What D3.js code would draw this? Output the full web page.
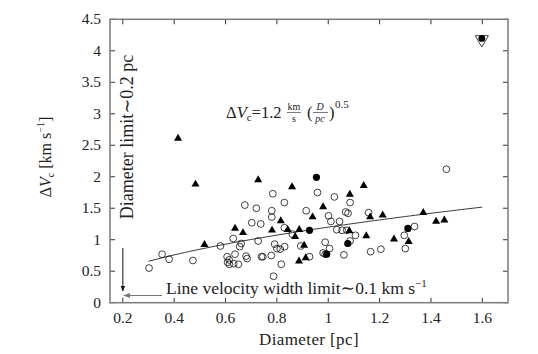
<!DOCTYPE html>
<html>
<head>
<meta charset="utf-8">
<script src="https://cdn.jsdelivr.net/npm/d3@7"></script>
<style>
  body { margin: 0; background: #fff; }
  svg text { font-family: "Liberation Serif", "DejaVu Serif", serif; fill: #222; }
</style>
</head>
<body>
<div id="vis"></div>
<script>
// open circles : [diameter pc, dV km/s]
var openCircles = [
	[0.302, 0.55], [0.353, 0.77], [0.380, 0.69], [0.473, 0.67], [0.580, 0.90],
	[0.606, 0.73], [0.614, 0.68], [0.608, 0.64], [0.615, 0.61], [0.630, 1.02],
	[0.632, 0.62], [0.637, 0.77], [0.650, 0.61], [0.655, 0.89], [0.661, 0.94],
	[0.675, 1.55], [0.680, 0.74], [0.684, 0.70], [0.702, 1.27], [0.720, 1.50],
	[0.727, 0.98], [0.737, 1.25], [0.740, 0.73], [0.745, 0.73], [0.778, 0.75],
	[0.784, 1.73], [0.780, 1.46], [0.780, 1.36], [0.787, 0.42], [0.791, 0.93],
	[0.800, 0.86], [0.813, 0.85], [0.830, 0.89], [0.829, 1.19], [0.817, 0.61],
	[0.829, 1.59], [0.860, 1.09], [0.893, 0.90], [0.914, 1.46], [0.927, 0.73],
	[0.958, 1.75], [0.988, 0.96], [1.001, 1.38], [1.005, 0.86], [0.980, 0.79],
	[0.988, 0.77], [1.010, 1.29], [1.024, 1.68], [1.033, 1.16], [1.044, 1.29],
	[1.054, 1.15], [1.061, 0.76], [1.068, 1.44], [1.077, 1.42], [1.072, 1.15],
	[1.085, 1.59], [1.085, 0.98], [1.106, 1.07], [1.157, 1.43], [1.165, 0.81],
	[1.205, 0.85], [1.296, 1.07], [1.300, 0.86], [1.336, 1.21], [1.460, 2.12]
];

var triangles = [
	[0.415, 2.61], [0.483, 1.88], [0.518, 0.92], [0.637, 1.18], [0.668, 1.11],
	[0.727, 1.95], [0.781, 1.15], [0.815, 1.30], [0.842, 1.16], [0.859, 1.84],
	[0.871, 1.05], [0.887, 1.16], [0.906, 0.91], [0.886, 0.66], [0.912, 0.71],
	[0.939, 1.36], [0.980, 1.52], [1.084, 1.72], [1.082, 1.14], [1.138, 1.86],
	[1.148, 1.06], [1.163, 1.36], [1.212, 1.39], [1.256, 1.01], [1.313, 0.97],
	[1.370, 1.43], [1.420, 1.29], [1.452, 1.31]
];

var filledCircles = [
	[0.954, 1.99], [0.927, 1.15], [0.994, 0.77], [1.076, 0.94], [1.310, 1.18]
];

var specialPoint = [[1.598, 4.18]];

var xTicks = [0.2, 0.4, 0.6, 0.8, 1, 1.2, 1.4, 1.6];
var yTicks = [0, 0.5, 1, 1.5, 2, 2.5, 3, 3.5, 4, 4.5];

// fit: dV = 1.2 (D/pc)^0.5, drawn from 0.3 to 1.6 pc
var fitCoef = 1.2;
var fitRange = [0.3, 1.6];

var width = 538, height = 354;
var frame = { left: 110, right: 508, top: 19.3, bottom: 302.7 };

var x = d3.scaleLinear().domain([0.15, 1.7]).range([frame.left, frame.right]);
var y = d3.scaleLinear().domain([0, 4.5]).range([frame.bottom, frame.top]);

var svg = d3.select('#vis').append('svg')
	.attr('width', width)
	.attr('height', height);

var frameColor = "#7a7a7a";

// ticks on all four sides, pointing inward
var tickLen = 5;
var tk = svg.append('g').attr('stroke', '#333').attr('stroke-width', 1);
xTicks.forEach(function (t) {
	tk.append('line').attr('x1', x(t)).attr('x2', x(t)).attr('y1', frame.bottom).attr('y2', frame.bottom - tickLen);
	tk.append('line').attr('x1', x(t)).attr('x2', x(t)).attr('y1', frame.top).attr('y2', frame.top + tickLen);
});
yTicks.forEach(function (t) {
	tk.append('line').attr('x1', frame.left).attr('x2', frame.left + tickLen).attr('y1', y(t)).attr('y2', y(t));
	tk.append('line').attr('x1', frame.right).attr('x2', frame.right - tickLen).attr('y1', y(t)).attr('y2', y(t));
});

svg.append('rect')
	.attr('x', frame.left).attr('y', frame.top)
	.attr('width', frame.right - frame.left)
	.attr('height', frame.bottom - frame.top)
	.attr('fill', 'none')
	.attr('stroke', frameColor)
	.attr('stroke-width', 1.5);

// tick labels
svg.append('g').selectAll('text')
	.data(xTicks).enter().append('text')
	.attr('x', function (d) { return x(d); })
	.attr('y', 323)
	.attr('text-anchor', 'middle')
	.attr('font-size', 15.5)
	.text(function (d) { return d; });

svg.append('g').selectAll('text')
	.data(yTicks).enter().append('text')
	.attr('x', 101)
	.attr('y', function (d) { return y(d) + 5; })
	.attr('text-anchor', 'end')
	.attr('font-size', 15.5)
	.text(function (d) { return d; });

// axis titles
svg.append('text')
	.attr('x', 309).attr('y', 345)
	.attr('text-anchor', 'middle')
	.attr('font-size', 17)
	.attr('letter-spacing', 0.4)
	.text('Diameter [pc]');

var yt = svg.append('text')
	.attr('transform', 'translate(51,157) rotate(-90)')
	.attr('text-anchor', 'middle')
	.attr('font-size', 16);
yt.append('tspan').text('Δ');
yt.append('tspan').attr('font-style', 'italic').text('V');
yt.append('tspan').attr('font-size', 10).attr('dy', 3).text('c');
yt.append('tspan').attr('dy', -3).text(' [km s');
yt.append('tspan').attr('font-size', 10).attr('dy', -7).text('−1');
yt.append('tspan').attr('dy', 7).text(']');

// fit line
var fitData = d3.range(fitRange[0], fitRange[1] + 0.001, 0.02);
svg.append('path')
	.datum(fitData)
	.attr('fill', 'none')
	.attr('stroke', '#222')
	.attr('stroke-width', 0.9)
	.attr('d', d3.line()
		.x(function (d) { return x(d); })
		.y(function (d) { return y(fitCoef * Math.sqrt(d)); }));

// markers
svg.append('g').selectAll('circle')
	.data(openCircles).enter().append('circle')
	.attr('cx', function (d) { return x(d[0]); })
	.attr('cy', function (d) { return y(d[1]); })
	.attr('r', 3.4)
	.attr('fill', 'none')
	.attr('stroke', '#111')
	.attr('stroke-width', 0.8);

var tri = d3.symbol().type(d3.symbolTriangle).size(28);
svg.append('g').selectAll('path')
	.data(triangles).enter().append('path')
	.attr('transform', function (d) { return 'translate(' + x(d[0]) + ',' + y(d[1]) + ')'; })
	.attr('d', tri)
	.attr('fill', '#000');

svg.append('g').selectAll('circle')
	.data(filledCircles).enter().append('circle')
	.attr('cx', function (d) { return x(d[0]); })
	.attr('cy', function (d) { return y(d[1]); })
	.attr('r', 3.6)
	.attr('fill', '#000');

var sp = svg.append('g').selectAll('g')
	.data(specialPoint).enter().append('g')
	.attr('transform', function (d) { return 'translate(' + x(d[0]) + ',' + y(d[1]) + ')'; });
sp.append('path')
	.attr('d', d3.symbol().type(d3.symbolTriangle).size(75))
	.attr('transform', 'rotate(180)')
	.attr('fill', '#fff')
	.attr('stroke', '#111')
	.attr('stroke-width', 0.8);
sp.append('circle').attr('cy', -1).attr('r', 3.4).attr('fill', '#000');

// equation label
var eq = svg.append('g').attr('font-size', 16.5);
var e1 = eq.append('text').attr('x', 226).attr('y', 118);
e1.append('tspan').text('Δ');
e1.append('tspan').attr('font-style', 'italic').text('V');
e1.append('tspan').attr('font-size', 11).attr('dy', 3).text('c');
e1.append('tspan').attr('dy', -3).text('=1.2');
eq.append('text').attr('x', 294).attr('y', 110).attr('font-size', 10).attr('text-anchor', 'middle').text('km');
eq.append('line').attr('x1', 287).attr('x2', 301).attr('y1', 112.5).attr('y2', 112.5).attr('stroke', '#222').attr('stroke-width', 0.6);
eq.append('text').attr('x', 294).attr('y', 122).attr('font-size', 10).attr('text-anchor', 'middle').text('s');
eq.append('text').attr('x', 307).attr('y', 118).text('(');
eq.append('text').attr('x', 320).attr('y', 110).attr('font-size', 10).attr('font-style', 'italic').attr('text-anchor', 'middle').text('D');
eq.append('line').attr('x1', 313).attr('x2', 328).attr('y1', 112.5).attr('y2', 112.5).attr('stroke', '#222').attr('stroke-width', 0.6);
eq.append('text').attr('x', 320).attr('y', 122).attr('font-size', 10).attr('font-style', 'italic').attr('text-anchor', 'middle').text('pc');
eq.append('text').attr('x', 329).attr('y', 118).text(')');
eq.append('text').attr('x', 335).attr('y', 108).attr('font-size', 11).text('0.5');

// limit annotations
svg.append('defs').html(
	'<marker id="ahB" viewBox="0 0 10 10" refX="9" refY="5" markerWidth="6" markerHeight="7" orient="auto">' +
	'<path d="M0,1 L10,5 L0,9 Z" fill="#111"/></marker>' +
	'<marker id="ahG" viewBox="0 0 10 10" refX="9" refY="5" markerWidth="6" markerHeight="6" orient="auto">' +
	'<path d="M0,1.5 L10,5 L0,8.5 Z" fill="#777"/></marker>');

svg.append('line')
	.attr('x1', x(0.2)).attr('x2', x(0.2))
	.attr('y1', 248).attr('y2', 291)
	.attr('stroke', '#111').attr('stroke-width', 1)
	.attr('marker-end', 'url(#ahB)');

svg.append('line')
	.attr('x1', 162).attr('x2', x(0.2) + 1)
	.attr('y1', 295.5).attr('y2', 295.5)
	.attr('stroke', '#777').attr('stroke-width', 1.2)
	.attr('marker-end', 'url(#ahG)');

var lv = svg.append('text')
	.attr('x', 166).attr('y', 294)
	.attr('font-size', 17.5);
lv.append('tspan').text('Line velocity width limit∼0.1 km s');
lv.append('tspan').attr('font-size', 11).attr('dy', -7).text('−1');

svg.append('text')
	.attr('transform', 'translate(133,137) rotate(-90)')
	.attr('text-anchor', 'middle')
	.attr('font-size', 18)
	.text('Diameter limit∼0.2 pc');
</script>
</body>
</html>
